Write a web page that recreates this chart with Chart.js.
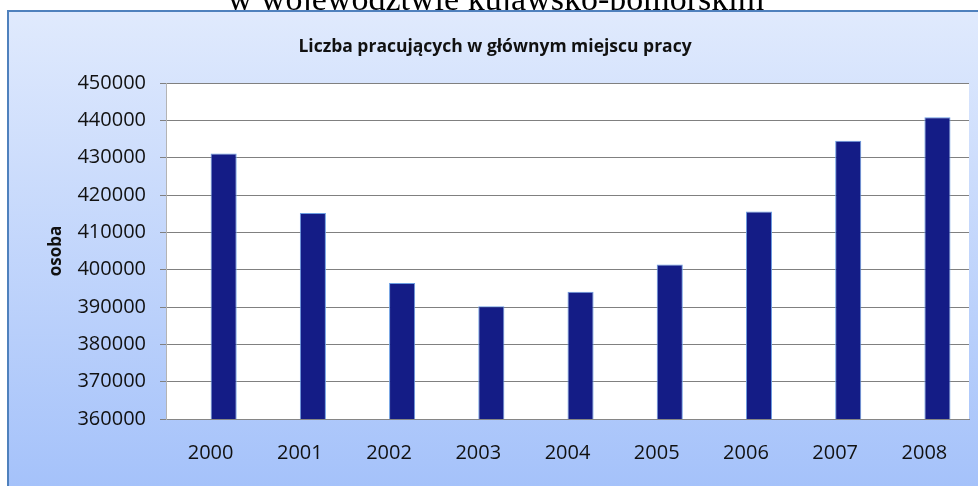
<!DOCTYPE html>
<html><head><meta charset="utf-8">
<script src="https://cdn.jsdelivr.net/npm/chart.js@4.4.1/dist/chart.umd.min.js"></script>
<style>html,body{margin:0;padding:0;background:#fff;overflow:hidden}#wrap{position:relative;width:978px;height:486px}</style>
</head><body><div id="wrap"><canvas id="c" width="978" height="486"></canvas></div>
<script>
const categories = ['2000','2001','2002','2003','2004','2005','2006','2007','2008'];
const employed = [431100, 415200, 396400, 390200, 394100, 401400, 415600, 434500, 440800];
const placeholder = [null, null, null, null, null, null, null, null, null];
const yTicks = [360000, 370000, 380000, 390000, 400000, 410000, 420000, 430000, 440000, 450000];
const chartTitle = 'Liczba pracujących w głównym miejscu pracy';
const headerText = 'w województwie kujawsko-pomorskim';
const yAxisTitle = 'osoba';

const frame = {
  id: 'frame',
  beforeDraw(chart) {
    const ctx = chart.ctx, a = chart.chartArea;
    ctx.save();
    ctx.fillStyle = '#fff';
    ctx.fillRect(0, 0, chart.width, chart.height);
    ctx.fillStyle = '#000';
    ctx.font = '34px "Liberation Serif"';
    ctx.textAlign = 'center';
    ctx.textBaseline = 'alphabetic';
    ctx.fillText(headerText, 496, 10);
    const g = ctx.createLinearGradient(0, 11, 0, 486);
    g.addColorStop(0, '#e0eafd');
    g.addColorStop(1, '#a5c2fa');
    ctx.fillStyle = g;
    ctx.fillRect(8, 11, 974, 490);
    ctx.strokeStyle = '#4f81bd';
    ctx.lineWidth = 2;
    ctx.strokeRect(8, 11, 974, 490);
    ctx.fillStyle = '#fff';
    ctx.fillRect(a.left, a.top, a.right - a.left, a.bottom - a.top);
    ctx.fillStyle = '#111';
    ctx.font = 'bold 17.5px "Open Sans"';
    ctx.textBaseline = 'middle';
    ctx.fillText(chartTitle, 495, 47);
    ctx.restore();
  }
};

new Chart(document.getElementById('c'), {
  type: 'bar',
  data: {
    labels: categories,
    datasets: [
      { data: placeholder, backgroundColor: '#141c86' },
      { data: employed, backgroundColor: '#141c86', borderColor: '#6c9ee2', borderWidth: 1, borderSkipped: false }
    ]
  },
  options: {
    responsive: false,
    animation: false,
    devicePixelRatio: 1,
    layout: { padding: { left: 0, right: 9, top: 83, bottom: 0 } },
    plugins: { legend: { display: false }, tooltip: { enabled: false }, title: { display: false } },
    datasets: { bar: { categoryPercentage: 0.585, barPercentage: 1 } },
    scales: {
      x: {
        grid: { display: false, drawTicks: false },
        border: { display: true, color: '#868686', width: 1 },
        ticks: { color: '#111', font: { family: '"Open Sans"', size: 20 }, padding: 22, maxRotation: 0 },
        afterFit(s) { s.height = 67; }
      },
      y: {
        min: 360000, max: 450000,
        afterBuildTicks(s) { s.ticks = yTicks.map(v => ({ value: v })); },
        grid: { color: '#808080', lineWidth: 1, drawTicks: true, tickLength: 6, tickColor: '#808080' },
        border: { display: true, color: '#b4b4b4', width: 1 },
        ticks: { color: '#111', font: { family: '"Open Sans"', size: 20 }, padding: 14, callback: v => String(v) },
        title: { display: true, text: yAxisTitle, color: '#111', font: { family: '"Open Sans"', size: 17, weight: 'bold' }, padding: { top: 46, bottom: 0 } },
        afterFit(s) { s.width = 166; }
      }
    }
  },
  plugins: [frame]
});
</script>
</body></html>
